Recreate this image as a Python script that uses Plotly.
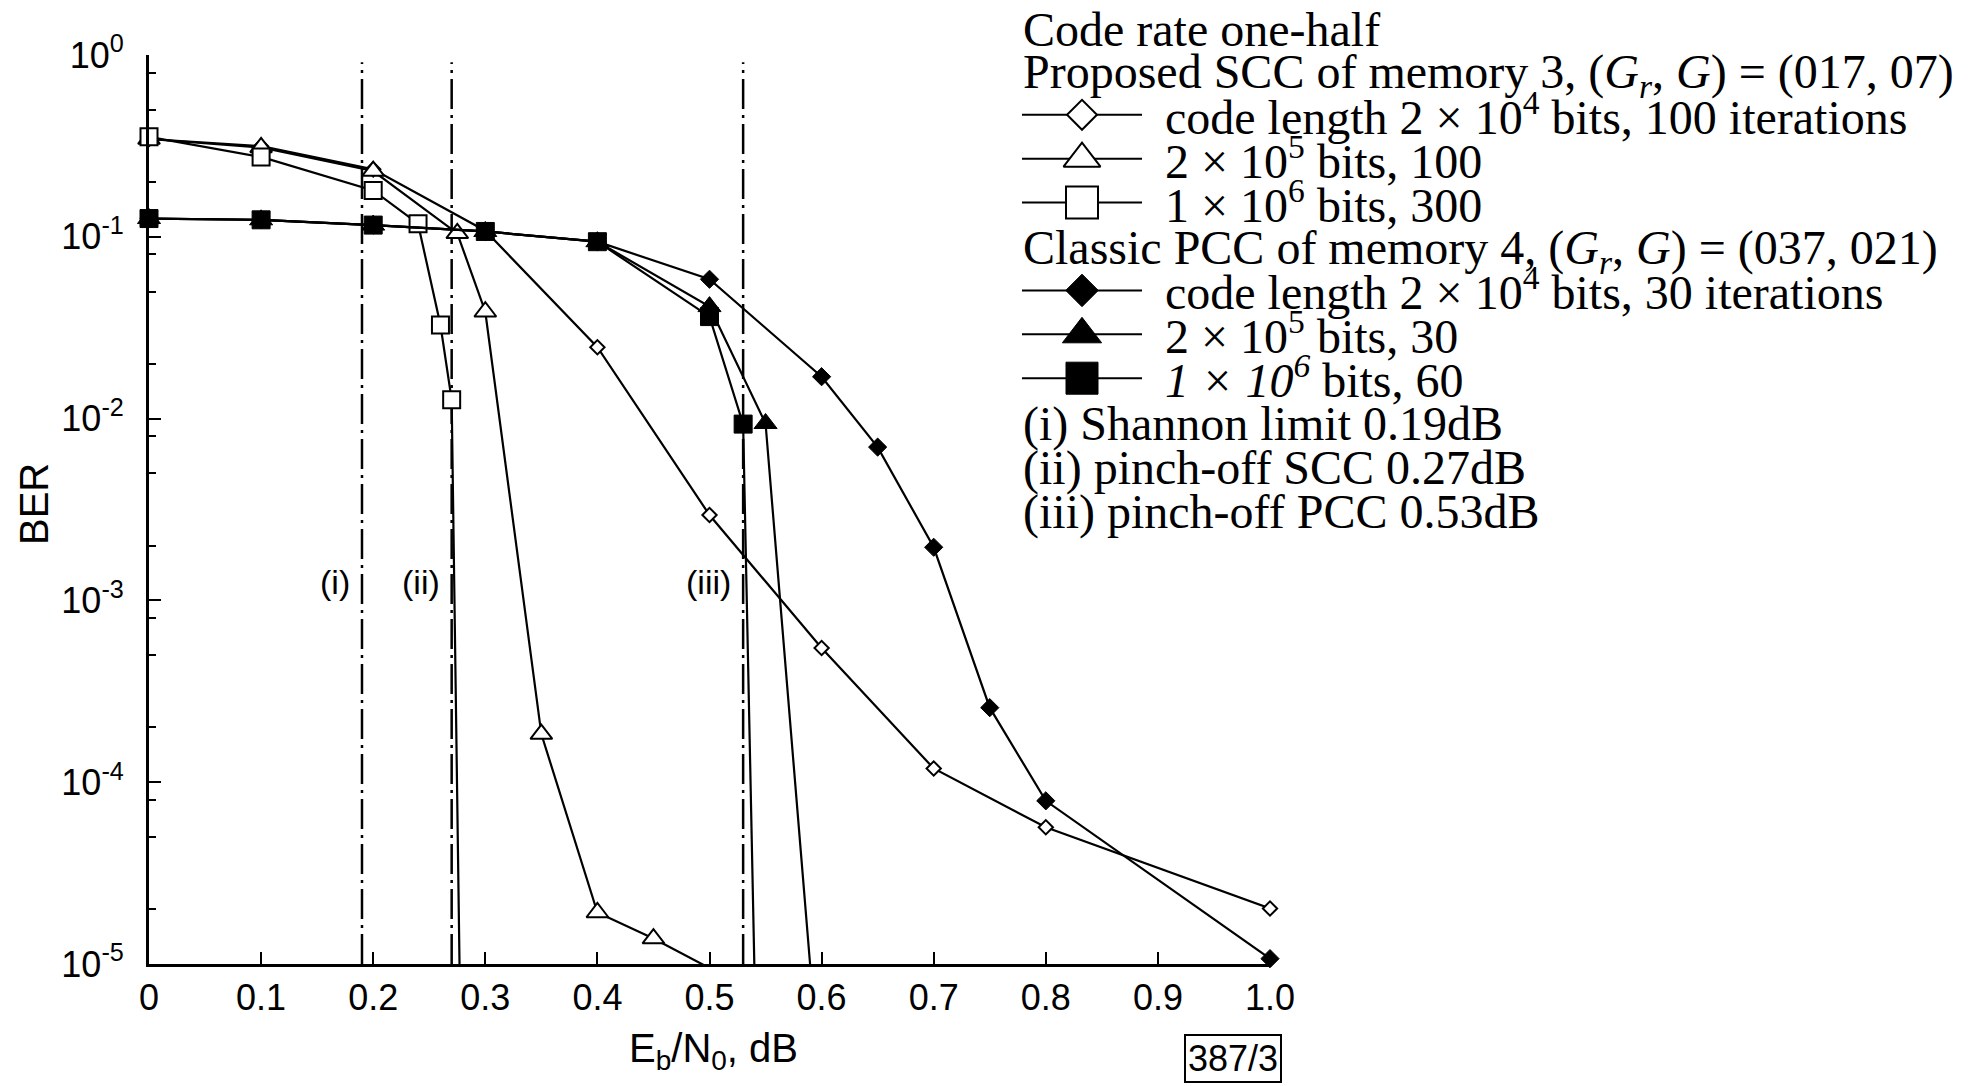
import plotly.graph_objects as go

# ---- measured BER curves (Eb/N0 in dB) ----
scc_2e4_x = [0.0, 0.1, 0.2, 0.3, 0.4, 0.5, 0.6, 0.7, 0.8, 1.0]
scc_2e4_ber = [0.345, 0.315, 0.235, 0.108, 0.0247, 0.00295, 5.47e-4, 1.19e-4, 5.65e-5, 2.02e-5]

scc_2e5_x = [0.0, 0.1, 0.2, 0.275, 0.3, 0.35, 0.4, 0.45, 0.5]
scc_2e5_ber = [0.345, 0.31, 0.23, 0.1045, 0.0387, 1.84e-4, 1.92e-5, 1.38e-5, 9.5e-6]

scc_1e6_x = [0.0, 0.1, 0.2, 0.24, 0.26, 0.27, 0.28]
scc_1e6_ber = [0.355, 0.275, 0.18, 0.118, 0.0327, 0.0127, 4.7e-7]

pcc_2e4_x = [0.0, 0.1, 0.2, 0.3, 0.4, 0.5, 0.6, 0.65, 0.7, 0.75, 0.8, 1.0]
pcc_2e4_ber = [0.126, 0.124, 0.116, 0.107, 0.094, 0.0584, 0.017, 6.97e-3, 1.96e-3, 2.57e-4, 7.9e-5, 1.07e-5]

pcc_2e5_x = [0.0, 0.1, 0.2, 0.3, 0.4, 0.5, 0.55, 0.6]
pcc_2e5_ber = [0.126, 0.124, 0.116, 0.107, 0.094, 0.0413, 0.0094, 1.7e-6]

pcc_1e6_x = [0.0, 0.1, 0.2, 0.3, 0.4, 0.5, 0.53, 0.545]
pcc_1e6_ber = [0.126, 0.124, 0.116, 0.107, 0.094, 0.0364, 0.00933, 3.2e-7]

# reference thresholds (dB)
limit_x = [0.19, 0.27, 0.53]
limit_tags = ["(i)", "(ii)", "(iii)"]

# axis ticks
x_tickvals = [0.0, 0.1, 0.2, 0.3, 0.4, 0.5, 0.6, 0.7, 0.8, 0.9, 1.0]
x_ticktext = ["0", "0.1", "0.2", "0.3", "0.4", "0.5", "0.6", "0.7", "0.8", "0.9", "1.0"]
y_tickvals = [1e-5, 1e-4, 1e-3, 1e-2, 1e-1, 1e0]
y_ticktext = ["10<sup>-5</sup>", "10<sup>-4</sup>", "10<sup>-3</sup>",
              "10<sup>-2</sup>", "10<sup>-1</sup>", "10<sup>0</sup>"]
y_minor_vals = [m * 10.0 ** e for e in range(-5, 0) for m in (2, 5, 8)]

# key text
key_header = "Code rate one-half"
key_scc = "Proposed SCC of memory 3, (<i>G<sub>r</sub></i>, <i>G</i>) = (017, 07)"
key_pcc = "Classic PCC of memory 4, (<i>G<sub>r</sub></i>, <i>G</i>) = (037, 021)"
key_scc_items = ["code length 2 × 10<sup>4</sup> bits, 100 iterations",
                 "2 × 10<sup>5</sup> bits, 100",
                 "1 × 10<sup>6</sup> bits, 300"]
key_pcc_items = ["code length 2 × 10<sup>4</sup> bits, 30 iterations",
                 "2 × 10<sup>5</sup> bits, 30",
                 "<i>1 × 10<sup>6</sup></i> bits, 60"]
key_limits = ["(i) Shannon limit 0.19dB",
              "(ii) pinch-off SCC 0.27dB",
              "(iii) pinch-off PCC 0.53dB"]

# ---- layout geometry (pixels) ----
W, H = 1975, 1086
PX_L, PX_R = 149, 1270      # x = 0 .. 1.0
PX_T, PX_B = 55, 964        # BER = 1 .. 1e-5

SANS = "Liberation Sans, Arial, sans-serif"
SERIF = "Liberation Serif, Times New Roman, serif"
FLOOR = 1e-5

fig = go.Figure()

# threshold lines
for xv in limit_x:
    fig.add_trace(go.Scatter(
        x=[xv, xv], y=[FLOOR, 0.912], mode="lines",
        line=dict(color="black", width=2.5, dash="30px,6px,3px,6px"),
        showlegend=False, hoverinfo="skip"))

styles = [
    (scc_2e4_x, scc_2e4_ber, "diamond", 11, "white", 2),
    (scc_2e5_x, scc_2e5_ber, "triangle-up", 19, "white", 2),
    (scc_1e6_x, scc_1e6_ber, "square", 17, "white", 2),
    (pcc_2e4_x, pcc_2e4_ber, "diamond", 14, "black", 1),
    (pcc_2e5_x, pcc_2e5_ber, "triangle-up", 20, "black", 1),
    (pcc_1e6_x, pcc_1e6_ber, "square", 18, "black", 1),
]
for xs, ys, sym, size, fill, lw in styles:
    fig.add_trace(go.Scatter(
        x=xs, y=ys, mode="lines+markers",
        line=dict(color="black", width=2.2),
        marker=dict(symbol=sym, size=size, color=fill,
                    line=dict(color="black", width=lw),
                    opacity=[1 if v >= FLOOR else 0 for v in ys]),
        cliponaxis=False, showlegend=False, hoverinfo="skip"))

# ---- key (drawn in pixel space on an overlay subplot) ----
ROW0, ROW_STEP = 26, 43.9
KEY_X, KEY_TEXT_X = 1021, 1163
GLYPH_L, GLYPH_M, GLYPH_R = 1022, 1082, 1142

def row_y(k):
    return ROW0 + ROW_STEP * k

key_glyphs = [
    (2, "diamond", 23, "white", 2),
    (3, "triangle-up", 32, "white", 2),
    (4, "square", 32, "white", 2),
    (6, "diamond", 25, "black", 1),
    (7, "triangle-up", 34, "black", 1),
    (8, "square", 32, "black", 1),
]
for k, sym, size, fill, lw in key_glyphs:
    yk = row_y(k) + 1
    fig.add_trace(go.Scatter(
        x=[GLYPH_L, GLYPH_M, GLYPH_R], y=[yk, yk, yk], xaxis="x2", yaxis="y2",
        mode="lines+markers", line=dict(color="black", width=2),
        marker=dict(symbol=sym, size=[0, size, 0], color=fill,
                    line=dict(color="black", width=lw), opacity=[0, 1, 0]),
        showlegend=False, hoverinfo="skip"))

annotations = []

def key_text(k, text, x, dy):
    annotations.append(dict(
        x=x, y=row_y(k) + dy, xref="x2", yref="y2", text=text, showarrow=False,
        xanchor="left", yanchor="middle",
        font=dict(family=SERIF, size=48, color="black")))

key_text(0, key_header, KEY_X, 3)
key_text(1, key_scc, KEY_X, 5)
for i, t in enumerate(key_scc_items):
    key_text(2 + i, t, KEY_TEXT_X, 0)
key_text(5, key_pcc, KEY_X, 5)
for i, t in enumerate(key_pcc_items):
    key_text(6 + i, t, KEY_TEXT_X, 0)
for i, t in enumerate(key_limits):
    key_text(9 + i, t, KEY_X, 3)

# threshold tags
for xv, tag in zip(limit_x, limit_tags):
    annotations.append(dict(
        x=xv, y=582, xref="x", yref="y2", text=tag, showarrow=False,
        xanchor="right", yanchor="middle", xshift=-10,
        font=dict(family=SANS, size=34, color="black")))

# axis titles
annotations.append(dict(
    x=713, y=1051, xref="x2", yref="y2", showarrow=False,
    text="E<sub>b</sub>/N<sub>0</sub>, dB",
    font=dict(family=SANS, size=40, color="black")))
annotations.append(dict(
    x=34, y=504, xref="x2", yref="y2", showarrow=False, text="BER",
    textangle=-90, font=dict(family=SANS, size=40, color="black")))

# figure tag
annotations.append(dict(
    x=1233, y=1058, xref="x2", yref="y2", showarrow=False, text="387/3",
    bordercolor="black", borderwidth=2, borderpad=2,
    font=dict(family=SANS, size=36, color="black")))

fig.update_layout(
    width=W, height=H,
    margin=dict(l=0, r=0, t=0, b=0),
    paper_bgcolor="white", plot_bgcolor="rgba(0,0,0,0)",
    showlegend=False,
    annotations=annotations,
    xaxis=dict(
        domain=[PX_L / W, PX_R / W], range=[0, 1.0], anchor="y",
        tickmode="array", tickvals=x_tickvals, ticktext=x_ticktext,
        ticks="inside", ticklen=12, tickwidth=2, tickcolor="black",
        showline=True, linewidth=3, linecolor="black",
        showgrid=False, zeroline=False, automargin=False,
        ticklabelstandoff=0,
        tickfont=dict(family=SANS, size=36, color="black")),
    yaxis=dict(
        domain=[(H - PX_B) / H, (H - PX_T) / H], type="log", range=[-5, 0],
        anchor="x",
        tickmode="array", tickvals=y_tickvals, ticktext=y_ticktext,
        ticks="inside", ticklen=12, tickwidth=2, tickcolor="black",
        minor=dict(tickmode="array", tickvals=y_minor_vals, ticks="inside",
                   ticklen=7, tickwidth=2, tickcolor="black", showgrid=False),
        showline=True, linewidth=3, linecolor="black",
        showgrid=False, zeroline=False, automargin=False,
        ticklabelstandoff=15,
        tickfont=dict(family=SANS, size=36, color="black")),
    xaxis2=dict(domain=[0, 1], range=[0, W], visible=False, anchor="y2",
                fixedrange=True),
    yaxis2=dict(domain=[0, 1], range=[H, 0], visible=False, anchor="x2",
                fixedrange=True),
)

fig.write_html("out.html")
